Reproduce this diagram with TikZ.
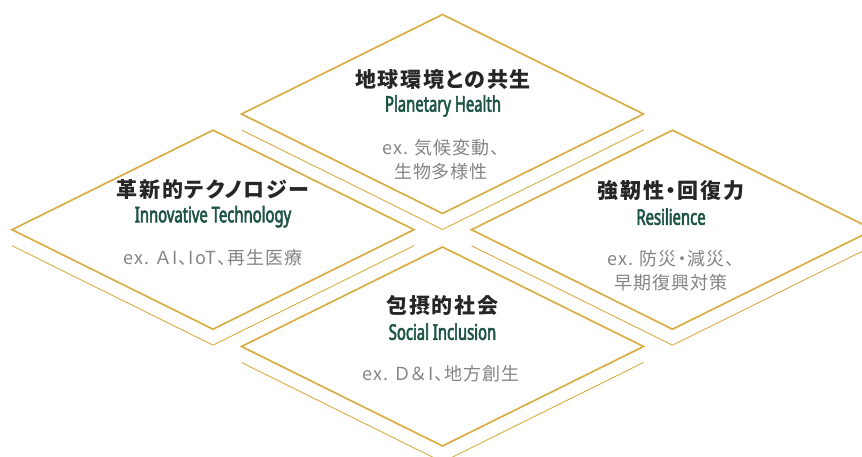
\documentclass[tikz,border=0pt]{standalone}
\usepackage{fontspec}
\newfontfamily\jpfont[CharacterWidth=AlternateProportional,LetterSpace=5]{Noto Sans CJK JP}
\newfontfamily\jptitle[LetterSpace=8,CharacterWidth=AlternateProportional]{Noto Sans CJK JP}
\newfontfamily\enfont[FakeStretch=0.69,FakeBold=2.6]{Noto Sans}
\definecolor{gold}{HTML}{D9AE45}
\definecolor{dgreen}{HTML}{1E5446}
\definecolor{tgray}{HTML}{858585}
\definecolor{tdark}{HTML}{262626}
\tikzset{
  dia/.style={draw=gold, line width=1.7pt, line join=miter},
  shade/.style={draw=gold, line width=0.9pt},
  ttl/.style={text=tdark, font=\jptitle\bfseries\fontsize{21}{24}\selectfont, inner sep=0pt},
  eng/.style={text=dgreen, font=\enfont\fontsize{21.5}{24}\selectfont, inner sep=0pt},
  exa/.style={text=tgray, font=\jpfont\fontsize{18}{24}\selectfont, inner sep=0pt, align=center}
}
\newcommand\mydiamond[2]{%
  \draw[dia] (#1,#2-99.5) -- (#1+201,#2) -- (#1,#2+99.5) -- (#1-201,#2) -- cycle;
  \draw[shade] (#1-201,#2+16) -- (#1,#2+115.5) -- (#1+201,#2+16);
}
\begin{document}
\begin{tikzpicture}[x=1pt,y=-1pt]
\useasboundingbox (0,0) rectangle (862,457);
\clip (0,0) rectangle (862,457);
\fill[white] (0,0) rectangle (862,457);
\mydiamond{442.5}{114}
\mydiamond{213}{229.7}
\mydiamond{672.5}{229.7}
\mydiamond{442.5}{346.5}
% top
\node[ttl] (t1) at (443,80) {地球環境との共生};
\node[eng] (e1) at (443,106) {Planetary Health};
\node[exa] (x1) at (441,160) {ex. 気候変動、\\生物多様性};
% left
\node[ttl] (t2) at (213,190) {革新的テクノロジー};
\node[eng] (e2) at (213,216.7) {Innovative Technology};
\node[exa] (x2) at (213,257.7) {ex. Ａ\kern3pt I、IoT、再生医療};
% right
\node[ttl] (t3) at (671,191) {強靭性・回復力};
\node[eng] (e3) at (671,216.7) {Resilience};
\node[exa] (x3) at (671,270.5) {ex. 防災・減災、\\早期復興対策};
% bottom
\node[ttl] (t4) at (442.5,306) {包摂的社会};
\node[eng] (e4) at (442.5,331.7) {Social Inclusion};
\node[exa] (x4) at (441,373.3) {ex. Ｄ＆\kern3pt I、地方創生};
\end{tikzpicture}
\end{document}
